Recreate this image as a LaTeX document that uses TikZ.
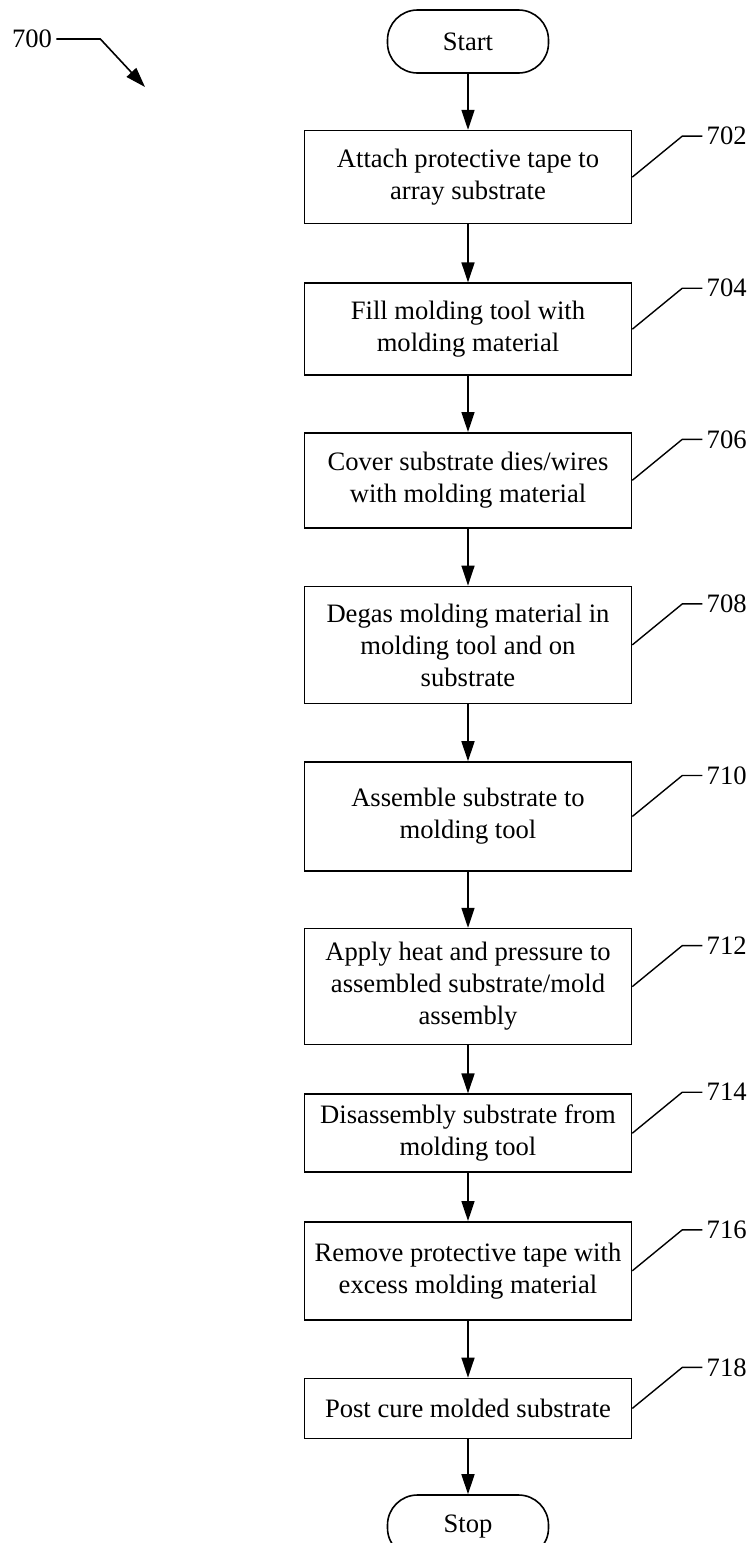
\documentclass[tikz,border=0pt]{standalone}
\usepackage{fontspec}
\setmainfont{Liberation Serif}
\usetikzlibrary{arrows.meta}
\usetikzlibrary{positioning}
\usetikzlibrary{calc}
\tikzstyle{startstop} = [rectangle, rounded corners=15pt, minimum width=80.5pt, minimum height=31.5pt, text centered, draw=black, line width=0.8pt, font=\fontsize{13.3pt}{16pt}\selectfont]
\tikzstyle{process} = [rectangle, minimum width=163.5pt, align=center, inner sep=2pt, draw=black, line width=0.8pt, font=\fontsize{13.3pt}{16pt}\selectfont]
\tikzstyle{tag} = [inner sep=2pt, font=\fontsize{13.3pt}{16pt}\selectfont]
\tikzstyle{arrow} = [line width=0.8pt,-{Triangle[length=10pt,width=6.5pt]}]
\tikzstyle{leader} = [line width=0.7pt]

\begin{document}
\begin{tikzpicture}[node distance=28pt]
\useasboundingbox (0,0) rectangle (376.5pt,-771.5pt);
\node (start) [startstop] at (234pt,-20.75pt) {Start};
\node (a702) [process, minimum height=46.5pt, below=of start] {Attach protective tape to\\array substrate};
\node (a704) [process, minimum height=46pt, below=29pt of a702] {Fill molding tool with\\molding material};
\node (a706) [process, minimum height=47.5pt, below=of a704] {Cover substrate dies/wires\\with molding material};
\node (a708) [process, minimum height=58.5pt, below=28.5pt of a706] {Degas molding material in\\molding tool and on\\substrate};
\node (a710) [process, minimum height=54.5pt, below=28.5pt of a708] {Assemble substrate to\\molding tool};
\node (a712) [process, minimum height=58pt, below=of a710] {Apply heat and pressure to\\assembled substrate/mold\\assembly};
\node (a714) [process, minimum height=39pt, below=24pt of a712] {Disassembly substrate from\\molding tool};
\node (a716) [process, minimum height=49pt, below=24pt of a714] {Remove protective tape with\\excess molding material};
\node (a718) [process, minimum height=30pt, below=28.5pt of a716] {Post cure molded substrate};
\node (stop) [startstop, below=27.5pt of a718] {Stop};
\draw [arrow] (start) -- (a702);
\draw [arrow] (a702) -- (a704);
\draw [arrow] (a704) -- (a706);
\draw [arrow] (a706) -- (a708);
\draw [arrow] (a708) -- (a710);
\draw [arrow] (a710) -- (a712);
\draw [arrow] (a712) -- (a714);
\draw [arrow] (a714) -- (a716);
\draw [arrow] (a716) -- (a718);
\draw [arrow] (a718) -- (stop);
% reference numerals
\foreach \n in {702,704,...,718}{
  \node (l\n) [tag, anchor=west] at ($(a\n.east)+(35pt,20.5pt)$) {\n};
  \draw [leader] (a\n.east) -- ++(25pt,20.5pt) -- (l\n.west);
}
\node (l700) [tag] at (16pt,-19.5pt) {700};
\coordinate (p700) at (72.5pt,-43.5pt);
\draw [arrow] (l700.east) -- ++(22pt,0) -- (p700);
\end{tikzpicture}
\end{document}
